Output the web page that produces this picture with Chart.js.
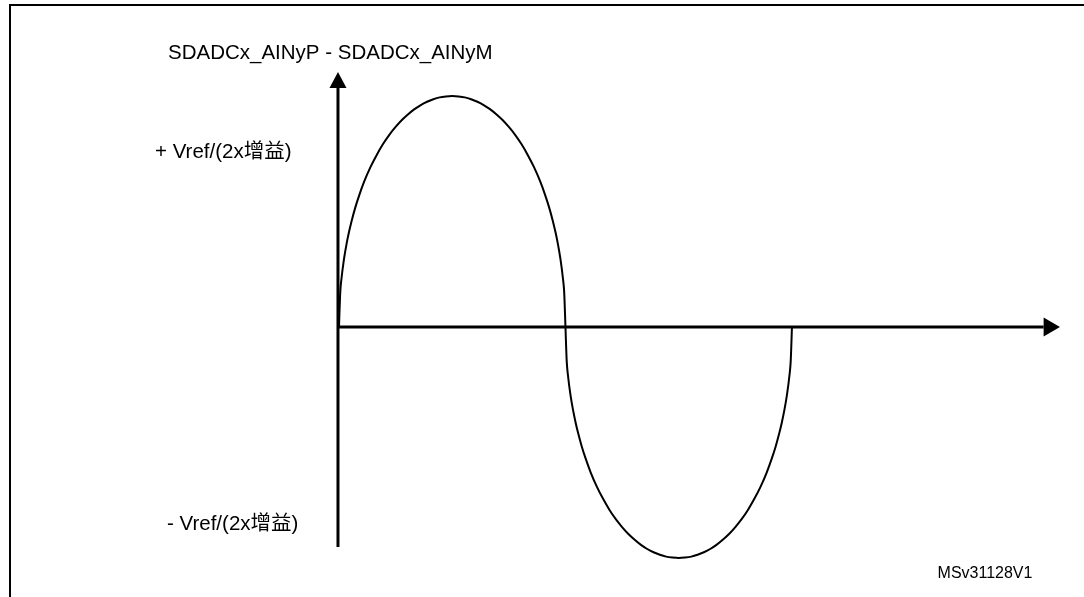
<!DOCTYPE html>
<html lang="zh">
<head>
  <meta charset="UTF-8">
  <title>SDADC 差分输入</title>
  <script src="https://cdn.jsdelivr.net/npm/chart.js"></script>
  <style>
    html, body { margin: 0; padding: 0; background: #fff; }
    canvas { display: block; }
  </style>
</head>
<body>
  <canvas id="chartWave" width="1084" height="597"></canvas>

  <script>
    // phase in degrees, value normalised to the peak (1 = top of the lobe)
    const phase = [0, 1, 2, 4, 6, 8, 10, 13, 16, 20, 25, 30, 35, 40, 45, 50, 55, 60, 65, 70, 75, 80, 85, 90,
                   95, 100, 105, 110, 115, 120, 125, 130, 135, 140, 145, 150, 155, 160, 164, 167, 170, 172, 174, 176, 178, 179,
                   180, 181, 182, 184, 186, 188, 190, 193, 196, 200, 205, 210, 215, 220, 225, 230, 235, 240, 245, 250, 255, 260, 265, 270,
                   275, 280, 285, 290, 295, 300, 305, 310, 315, 320, 325, 330, 335, 340, 344, 347, 350, 352, 354, 356, 358, 359, 360];
    const signal = [0, 0.149, 0.21, 0.295, 0.359, 0.412, 0.458, 0.518, 0.569, 0.629, 0.692, 0.745, 0.792, 0.832, 0.866, 0.896, 0.921, 0.943, 0.961, 0.975, 0.986, 0.994, 0.998, 1,
                    0.998, 0.994, 0.986, 0.975, 0.961, 0.943, 0.921, 0.896, 0.866, 0.832, 0.792, 0.745, 0.692, 0.629, 0.569, 0.518, 0.458, 0.412, 0.359, 0.295, 0.21, 0.149,
                    0, -0.149, -0.21, -0.295, -0.359, -0.412, -0.458, -0.518, -0.569, -0.629, -0.692, -0.745, -0.792, -0.832, -0.866, -0.896, -0.921, -0.943, -0.961, -0.975, -0.986, -0.994, -0.998, -1,
                    -0.998, -0.994, -0.986, -0.975, -0.961, -0.943, -0.921, -0.896, -0.866, -0.832, -0.792, -0.745, -0.692, -0.629, -0.569, -0.518, -0.458, -0.412, -0.359, -0.295, -0.21, -0.149, 0];
    const yTickValues = [0.758, -0.853];
    const yTickLabels = ["+ Vref/(2x增益)", "- Vref/(2x增益)"];
    const axisTitle = "SDADCx_AINyP - SDADCx_AINyM";
    const figureId = "MSv31128V1";

    const FONT = "'Liberation Sans', Arial, 'Noto Sans CJK SC', sans-serif";

    // frame, axes with arrows, tick labels and free texts
    const decor = {
      id: "decor",
      afterDraw(chart) {
        const ctx = chart.ctx;
        const xs = chart.scales.x, ys = chart.scales.y;
        const x0 = xs.getPixelForValue(0), y0 = ys.getPixelForValue(0);
        ctx.save();
        ctx.strokeStyle = "#000";
        ctx.fillStyle = "#000";

        // frame (left + top visible)
        ctx.lineWidth = 2;
        ctx.beginPath();
        ctx.moveTo(10, 597);
        ctx.lineTo(10, 5);
        ctx.lineTo(1084, 5);
        ctx.stroke();

        // y axis
        const yTop = ys.getPixelForValue(1.035), yTip = ys.getPixelForValue(1.104);
        ctx.lineWidth = 3;
        ctx.beginPath();
        ctx.moveTo(x0 - 1, ys.getPixelForValue(-0.952));
        ctx.lineTo(x0 - 1, yTop);
        ctx.stroke();
        ctx.beginPath();
        ctx.moveTo(x0 - 1, yTip);
        ctx.lineTo(x0 - 9.5, yTop);
        ctx.lineTo(x0 + 7.5, yTop);
        ctx.closePath();
        ctx.fill();

        // x axis
        const xBase = xs.getPixelForValue(560), xTip = xs.getPixelForValue(573);
        ctx.beginPath();
        ctx.moveTo(x0 - 1, y0);
        ctx.lineTo(xBase, y0);
        ctx.stroke();
        ctx.beginPath();
        ctx.moveTo(xTip, y0);
        ctx.lineTo(xBase, y0 - 9.5);
        ctx.lineTo(xBase, y0 + 9.5);
        ctx.closePath();
        ctx.fill();

        // y tick labels
        ctx.font = "20.5px " + FONT;
        ctx.textAlign = "left";
        ctx.textBaseline = "middle";
        const labelLeft = [155, 167];
        yTickValues.forEach((v, i) => {
          ctx.fillText(yTickLabels[i], labelLeft[i], ys.getPixelForValue(v));
        });

        // texts
        ctx.textBaseline = "alphabetic";
        ctx.fillText(axisTitle, 168, 59);
        ctx.textAlign = "center";
        ctx.font = "16px " + FONT;
        ctx.fillText(figureId, 985, 578);
        ctx.restore();
      }
    };

    const ctx = document.getElementById("chartWave").getContext("2d");
    new Chart(ctx, {
      type: "line",
      data: {
        datasets: [{
          data: phase.map((p, i) => ({ x: p, y: signal[i] })),
          borderColor: "#000",
          borderWidth: 2,
          pointRadius: 0,
          fill: false,
          cubicInterpolationMode: "monotone"
        }]
      },
      options: {
        responsive: false,
        animation: false,
        devicePixelRatio: 1,
        layout: { padding: 0 },
        plugins: { legend: { display: false }, tooltip: { enabled: false } },
        scales: {
          x: { type: "linear", min: -269.4, max: 592.1, display: false },
          y: { min: -1.1688, max: 1.4156, display: false }
        }
      },
      plugins: [decor]
    });
  </script>
</body>
</html>
